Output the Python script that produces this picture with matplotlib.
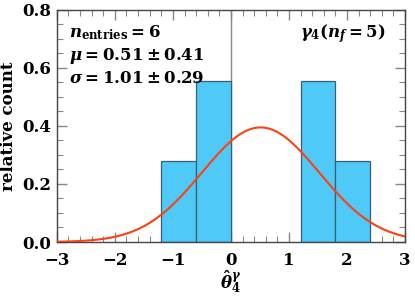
import numpy as np
import matplotlib
matplotlib.use("Agg")
import matplotlib.pyplot as plt
from matplotlib.ticker import MultipleLocator

plt.rcParams['font.family'] = ['DejaVu Serif']
plt.rcParams['font.weight'] = 'bold'
plt.rcParams['mathtext.fontset'] = 'custom'
plt.rcParams['mathtext.rm'] = 'DejaVu Serif:bold'
plt.rcParams['mathtext.it'] = 'DejaVu Serif:italic:bold'
plt.rcParams['mathtext.bf'] = 'DejaVu Serif:bold'

bin_left = [-1.2, -0.6, 1.2, 1.8]
bin_width = 0.6
heights = [0.278, 0.556, 0.556, 0.278]
mu = 0.51
sigma = 1.01
xticks = [-3, -2, -1, 0, 1, 2, 3]
yticks = [0.0, 0.2, 0.4, 0.6, 0.8]
ytick_labels = ['0.0', '0.2', '0.4', '0.6', '0.8']

fig = plt.figure(figsize=(4.15, 3.01), dpi=100)
ax = fig.add_axes([0.137, 0.196, 0.839, 0.771])

ax.bar(bin_left, heights, width=bin_width, align='edge', color='#4FC9F8',
       edgecolor='#3a5f70', linewidth=0.9, zorder=2)
ax.axvline(0, color='#888888', linewidth=1.0, zorder=1)
x = np.linspace(-3, 3, 400)
y = np.exp(-0.5 * ((x - mu) / sigma) ** 2) / (np.sqrt(2 * np.pi) * sigma)
ax.plot(x, y, color='#FF4010', linewidth=1.5, zorder=3)

ax.set_xlim(-3, 3)
ax.set_ylim(0, 0.8)
ax.set_xticks(xticks)
ax.xaxis.set_minor_locator(MultipleLocator(0.2))
ax.set_yticks(yticks)
ax.set_yticklabels(ytick_labels)
ax.yaxis.set_minor_locator(MultipleLocator(0.05))
ax.tick_params(which='both', direction='in', top=True, right=True, color='#888888')
ax.tick_params(which='major', length=7, width=1.0, labelsize=12)
ax.tick_params(which='minor', length=4, width=0.8)
ax.tick_params(axis='x', which='major', pad=7)
ax.tick_params(axis='y', which='major', pad=4)
for s in ax.spines.values():
    s.set_color('#444444')
    s.set_linewidth(1.0)

ax.set_xlabel(r'$\hat{\theta}_4^{\gamma}$', fontsize=12, labelpad=0)
ax.set_ylabel('relative count', fontsize=12, fontweight='bold')

ax.text(0.035, 0.90, r'$n_{\mathrm{entries}} = 6$', transform=ax.transAxes, fontsize=12, va='center')
ax.text(0.035, 0.80, r'$\mu = 0.51 \pm 0.41$', transform=ax.transAxes, fontsize=12, va='center')
ax.text(0.035, 0.705, r'$\sigma = 1.01 \pm 0.29$', transform=ax.transAxes, fontsize=12, va='center')
ax.text(0.945, 0.90, r'$\gamma_4(n_f = 5)$', transform=ax.transAxes, fontsize=12, va='center', ha='right')

fig.savefig('out.png', dpi=100)
